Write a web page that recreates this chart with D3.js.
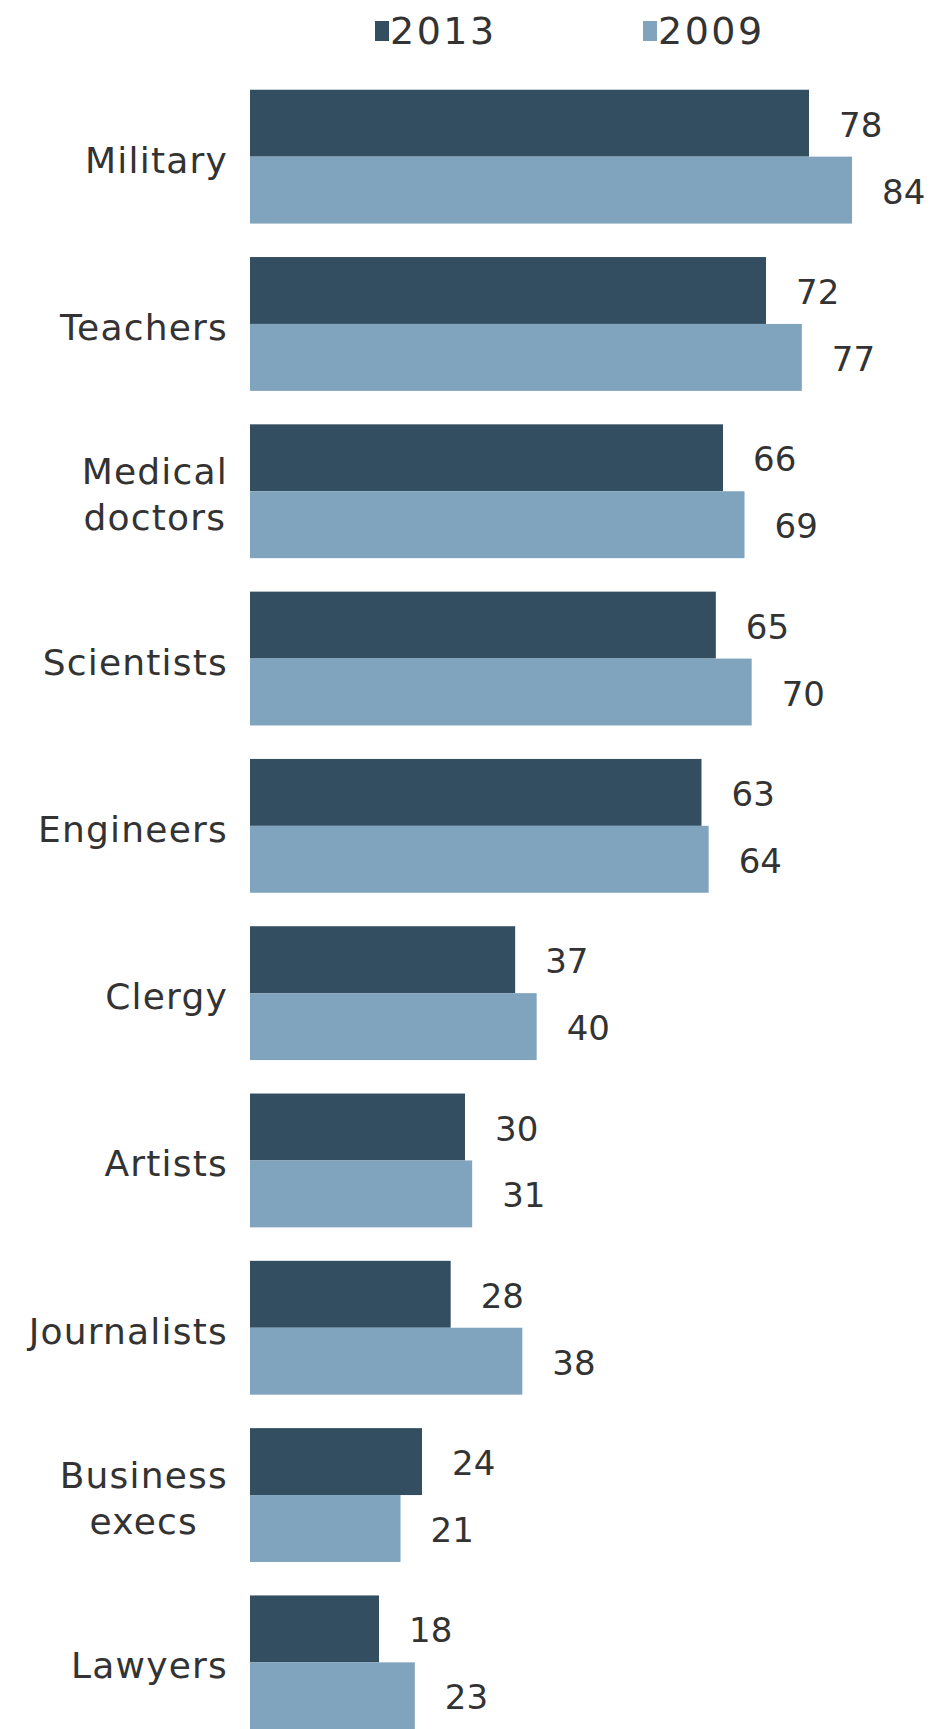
<!DOCTYPE html>
<html>
<head>
<meta charset="utf-8">
<script src="https://cdn.jsdelivr.net/npm/d3@7"></script>
<style>
  body { margin: 0; background: #fff; }
  text { font-family: "DejaVu Sans", Verdana, sans-serif; fill: #333; }
</style>
</head>
<body>
<svg id="chart" width="933" height="1729"></svg>
<script>
// categories, top to bottom
var categories = [
  ["Military"], ["Teachers"], ["Medical", "doctors"], ["Scientists"], ["Engineers"],
  ["Clergy"], ["Artists"], ["Journalists"], ["Business", "execs"], ["Lawyers"]
];
var series = ["2013", "2009"];
var values2013 = [78, 72, 66, 65, 63, 37, 30, 28, 24, 18];
var values2009 = [84, 77, 69, 70, 64, 40, 31, 38, 21, 23];
var colors = ["#334e60", "#80a4be"];

var svg = d3.select("#chart");
var keys = categories.map(function(c) { return c.join(" "); });

var x = d3.scaleLinear().domain([0, 84]).range([250, 852]);
var y = d3.scaleBand().domain(keys).range([73, 1746])
  .paddingInner(0.2).paddingOuter(0.1);
var ySub = d3.scaleBand().domain(series).range([0, y.bandwidth()]);

var rows = keys.map(function(k, i) {
  return { key: k, lines: categories[i], vals: [values2013[i], values2009[i]] };
});

// legend
var legend = svg.append("g");
[["2013", 375], ["2009", 643]].forEach(function(d, i) {
  var g = legend.append("g").attr("transform", "translate(" + d[1] + ",0)");
  g.append("rect").attr("x", 0).attr("y", 21).attr("width", 14).attr("height", 20)
    .attr("fill", colors[i]);
  g.append("text").attr("x", 15).attr("y", 30).attr("dy", "0.36em")
    .style("font-size", "38px").style("letter-spacing", "2.5px").text(d[0]);
});

var groups = svg.selectAll("g.row").data(rows).enter().append("g")
  .attr("class", "row")
  .attr("transform", function(d) { return "translate(0," + y(d.key) + ")"; });

groups.selectAll("rect").data(function(d) { return d.vals; }).enter().append("rect")
  .attr("x", x(0))
  .attr("y", function(v, i) { return ySub(series[i]); })
  .attr("width", function(v) { return x(v) - x(0); })
  .attr("height", ySub.bandwidth())
  .attr("fill", function(v, i) { return colors[i]; });

groups.selectAll("text.val").data(function(d) { return d.vals; }).enter().append("text")
  .attr("class", "val")
  .attr("x", function(v) { return x(v) + 30; })
  .attr("y", function(v, i) { return ySub(series[i]) + ySub.bandwidth() / 2; })
  .attr("dy", "0.4em")
  .style("font-size", "34px")
  .text(function(v) { return v; });

// category labels: block right-aligned, lines centred inside the block
var labelRight = 228;
groups.each(function(d) {
  var g = d3.select(this);
  var n = d.lines.length;
  var lh = 46;
  var mid = y.bandwidth() / 2 + 3;
  var txt = g.selectAll("text.cat").data(d.lines).enter().append("text")
    .attr("class", "cat")
    .attr("y", function(l, j) { return mid + (j - (n - 1) / 2) * lh; })
    .attr("dy", "0.36em")
    .style("font-size", "36px")
    .style("letter-spacing", "1.2px")
    .attr("text-anchor", "middle")
    .text(function(l) { return l; });
  var w = d3.max(txt.nodes(), function(t) { return t.getComputedTextLength(); });
  txt.attr("x", labelRight - w / 2);
});
</script>
</body>
</html>
